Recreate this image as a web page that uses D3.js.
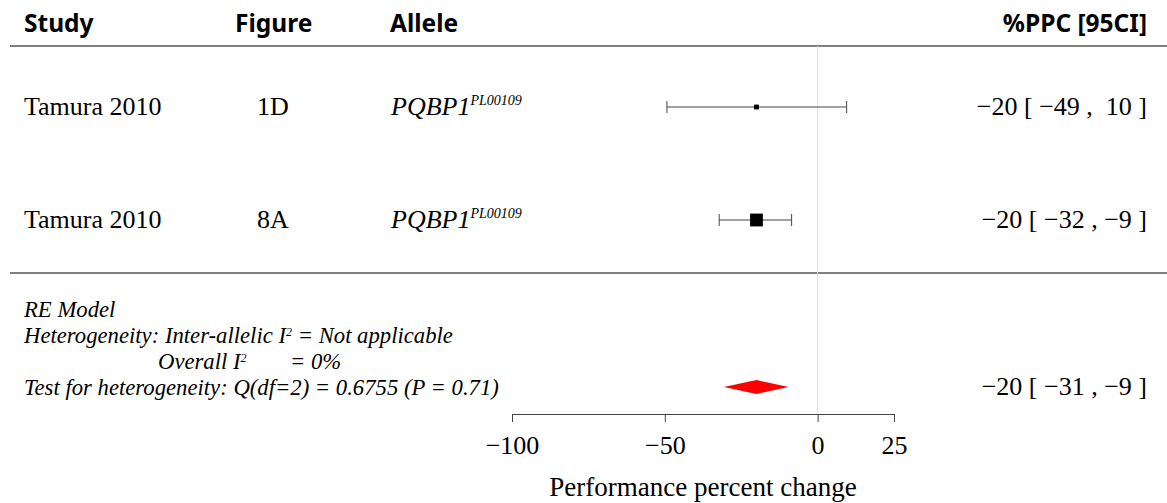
<!DOCTYPE html>
<html>
<head>
<meta charset="utf-8">
<script src="https://cdn.jsdelivr.net/npm/d3@7"></script>
<style>
  body { margin: 0; background: #fff; }
  text { white-space: pre; }
</style>
</head>
<body>
<svg width="1167" height="503"></svg>
<script>
// study rows
let studies = ['Tamura 2010', 'Tamura 2010']
let figures = ['1D', '8A']
let alleles = ['PQBP1', 'PQBP1']
let allelesSup = ['PL00109', 'PL00109']
let est = [-20, -20]
let lo = [-49.3, -32.2]
let hi = [9.5, -8.5]
let weights = [1.2, 3.2]
let ciLabels = ['\u221220 [ \u221249 ,  10 ]', '\u221220 [ \u221232 , \u22129 ]']

// summary
let summary = {est: -20, lo: -30.7, hi: -9.5}
let summaryLabel = '\u221220 [ \u221231 , \u22129 ]'

let tickVals = [-100, -50, 0, 25]
let headers = ['Study', 'Figure', 'Allele', '%PPC [95CI]']

let svg = d3.select('svg')
let serif = "'Liberation Serif', 'DejaVu Serif', serif"
let sans = "'Noto Sans', 'Open Sans', sans-serif"

let x = d3.scaleLinear().domain([-100, 25]).range([512, 894])
let y = d3.scaleLinear().domain([0, 1]).range([107, 220])

// headers
let hx = [24, 235, 390, 1147]
headers.forEach((h, i) => {
	svg.append('text')
		.attr('x', hx[i]).attr('y', 32)
		.attr('text-anchor', i == 3 ? 'end' : 'start')
		.style('font-family', sans).style('font-weight', 'bold')
		.style('font-size', '24.5px')
		.text(h)
})

svg.append('line')
	.attr('x1', 10).attr('x2', 1167).attr('y1', 46).attr('y2', 46)
	.attr('stroke', '#555').attr('stroke-width', 1.3)
svg.append('line')
	.attr('x1', 10).attr('x2', 1167).attr('y1', 273).attr('y2', 273)
	.attr('stroke', '#555').attr('stroke-width', 1.3)

// reference line at zero
svg.append('line')
	.attr('x1', x(0)).attr('x2', x(0)).attr('y1', 46).attr('y2', 414)
	.attr('stroke', '#ddd').attr('stroke-width', 1)

// rows
studies.forEach((s, i) => {
	let yy = y(i)
	svg.append('text').attr('x', 24).attr('y', yy + 8)
		.style('font-family', serif).style('font-size', '26px').text(s)
	svg.append('text').attr('x', 257).attr('y', yy + 8)
		.style('font-family', serif).style('font-size', '26px').text(figures[i])
	let t = svg.append('text').attr('x', 391).attr('y', yy + 8)
		.style('font-family', serif).style('font-size', '26px').style('font-style', 'italic')
	t.append('tspan').text(alleles[i])
	t.append('tspan').attr('dy', -10).style('font-size', '14px').text(allelesSup[i])
	svg.append('text').attr('x', 1147).attr('y', yy + 8).attr('text-anchor', 'end')
		.style('font-family', serif).style('font-size', '26px').text(ciLabels[i])

	let g = svg.append('g').attr('stroke', '#444').attr('stroke-width', 1)
	g.append('line').attr('x1', x(lo[i])).attr('x2', x(hi[i])).attr('y1', yy).attr('y2', yy)
	g.append('line').attr('x1', x(lo[i])).attr('x2', x(lo[i])).attr('y1', yy - 6).attr('y2', yy + 6)
	g.append('line').attr('x1', x(hi[i])).attr('x2', x(hi[i])).attr('y1', yy - 6).attr('y2', yy + 6)
	let sz = 4 * weights[i]
	svg.append('rect')
		.attr('x', x(est[i]) - sz / 2).attr('y', yy - sz / 2)
		.attr('width', sz).attr('height', sz).attr('fill', 'black')
})

// summary diamond
let dy = 387
svg.append('polygon')
	.attr('points', [[x(summary.lo), dy], [x(summary.est), dy - 7], [x(summary.hi), dy], [x(summary.est), dy + 7]].map(p => p.join(',')).join(' '))
	.attr('fill', 'red')
svg.append('text').attr('x', 1147).attr('y', dy + 8).attr('text-anchor', 'end')
	.style('font-family', serif).style('font-size', '26px').text(summaryLabel)

// footer text
let foot = svg.append('g').style('font-family', serif).style('font-size', '22.7px').style('font-style', 'italic')
foot.append('text').attr('x', 24).attr('y', 317).text('RE Model')
let h1 = foot.append('text').attr('x', 24).attr('y', 343)
h1.append('tspan').text('Heterogeneity: Inter-allelic I')
h1.append('tspan').attr('dy', -7).style('font-size', '12px').text('2')
h1.append('tspan').attr('dy', 7).text(' = Not applicable')
let h2 = foot.append('text').attr('x', 158).attr('y', 369)
h2.append('tspan').text('Overall I')
h2.append('tspan').attr('dy', -7).style('font-size', '12px').text('2')
foot.append('text').attr('x', 290).attr('y', 369).text('= 0%')
foot.append('text').attr('x', 24).attr('y', 395).text('Test for heterogeneity: Q(df=2) = 0.6755 (P = 0.71)')

// axis
let axis = svg.append('g').attr('transform', 'translate(0,414)')
	.call(d3.axisBottom(x).tickValues(tickVals).tickSize(8).tickPadding(14))
axis.select('.domain').attr('stroke', '#444')
axis.selectAll('.tick line').attr('stroke', '#444')
axis.selectAll('.tick text').style('font-family', serif).style('font-size', '26px').attr('fill', 'black')

svg.append('text').attr('x', (x.range()[0] + x.range()[1]) / 2).attr('y', 496).attr('text-anchor', 'middle')
	.style('font-family', serif).style('font-size', '27px')
	.text('Performance percent change')
</script>
</body>
</html>
